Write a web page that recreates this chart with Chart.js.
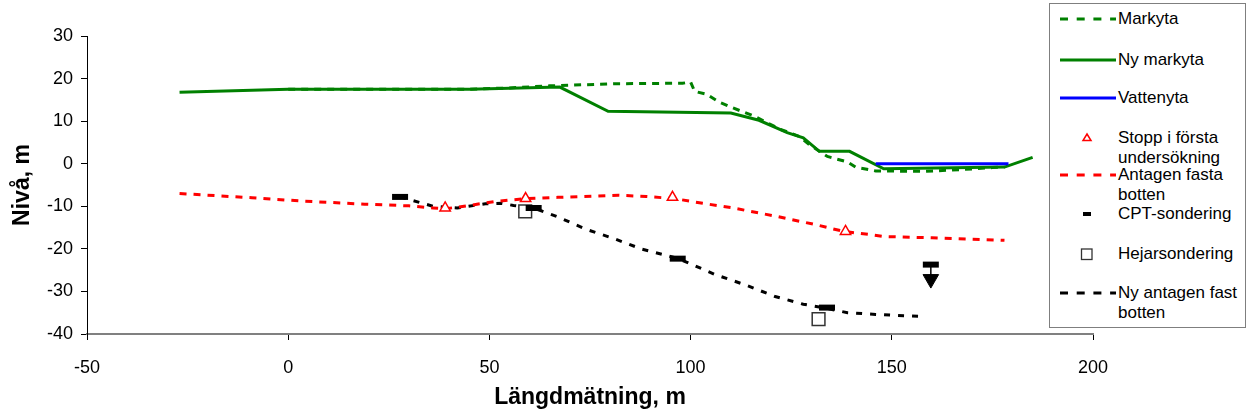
<!DOCTYPE html>
<html>
<head>
<meta charset="utf-8">
<script src="https://cdn.jsdelivr.net/npm/chart.js@4.4.0/dist/chart.umd.min.js"></script>
<style>
  html, body { margin: 0; padding: 0; background: #fff; }
  #wrap { position: relative; width: 1248px; height: 416px; font-family: "Liberation Sans", Arial, sans-serif; }
  #legend { position: absolute; left: 1049px; top: 3px; width: 195px; height: 323px; border: 1px solid #7f7f7f; background: #fff; }
  .sym { position: absolute; left: 0; width: 75px; height: 20px; }
  .txt { position: absolute; left: 68px; width: 126px; font-size: 17px; line-height: 19.6px; color: #000; }
</style>
</head>
<body>
<div id="wrap">
  <canvas id="chart" width="1248" height="416"></canvas>
  <div id="legend"></div>
</div>
<script>
// Markyta (befintlig)
const markytaX = [0, 45, 55, 65, 82, 98, 100, 101, 104, 107, 110, 113, 116, 122, 127, 129.5, 134, 139, 141, 146, 158, 167, 175, 178];
const markytaY = [17.5, 17.5, 17.8, 18.3, 18.8, 18.9, 19.2, 17.0, 16.3, 14.5, 13.3, 12.2, 11.1, 8.2, 6.4, 4.5, 1.7, 0.4, -0.8, -1.7, -1.8, -1.4, -0.9, -0.8];

// Ny markyta
const nyMarkytaX = [-27, 0, 45, 67.5, 79.5, 110, 117, 124, 128, 132, 139.5, 148, 178, 185];
const nyMarkytaY = [16.8, 17.5, 17.5, 18.0, 12.3, 11.9, 10.2, 7.3, 6.1, 2.9, 2.9, -1.2, -0.8, 1.5];

// Vattenyta
const vattenX = [146, 179];
const vattenY = [0, 0];

// Stopp i första undersökning
const stoppX = [39, 59, 95.5, 138.5];
const stoppY = [-10.4, -8.2, -7.9, -15.9];

// Antagen fasta botten
const fastaX = [-27, -9, 4, 19, 30, 36, 39, 45, 52, 59, 67, 82, 89, 96, 103, 110, 121, 131, 138, 145, 148, 160, 178];
const fastaY = [-7, -8, -8.8, -9.5, -9.9, -10.4, -10.6, -9.8, -8.8, -8.2, -7.9, -7.4, -7.7, -8.2, -9.3, -10.3, -12.3, -14.3, -15.9, -16.7, -17.1, -17.4, -18];

// CPT-sondering
const cptX = [27.8, 61, 96.8, 133.9, 159.7];
const cptY = [-7.8, -10.4, -22.3, -33.8, -23.7];
// pil under sista CPT-sonderingen
const pilX = [159.7, 159.7];
const pilY = [-23.7, -26.2];
const pilspetsX = [159.7];
const pilspetsY = [-27.1];

// Hejarsondering
const hejarX = [58.9, 131.8];
const hejarY = [-11.2, -36.5];

// Ny antagen fast botten
const nyFastX = [27.8, 36, 42, 49, 53, 56, 61, 67, 74, 81, 88, 97, 106, 114, 121, 128, 134, 139, 146, 153, 158];
const nyFastY = [-7.8, -10, -10.4, -9.4, -9.3, -9.8, -10.4, -12.5, -15.4, -17.6, -20.1, -22.3, -26, -28.6, -31.2, -33, -34, -35, -35.4, -35.7, -35.9];

const FONT = "'Liberation Sans', Arial, sans-serif";

function punkter(xs, ys) {
    return xs.map((x, i) => ({ x: x, y: ys[i] }));
}

function linje(label, xs, ys, color, dash) {
    return {
        label: label,
        data: punkter(xs, ys),
        showLine: true,
        borderColor: color,
        backgroundColor: color,
        borderWidth: 3,
        borderDash: dash,
        pointRadius: 0,
        tension: 0
    };
}

const datasets = [
    {
        label: 'CPT-sondering',
        data: punkter(cptX, cptY),
        pointStyle: 'line',
        pointRadius: 8,
        pointBorderWidth: 6,
        borderColor: '#000',
        backgroundColor: '#000'
    },
    {
        label: '',
        data: punkter(pilX, pilY),
        showLine: true,
        borderColor: '#000',
        borderWidth: 1.5,
        pointRadius: 0
    },
    {
        label: '',
        data: punkter(pilspetsX, pilspetsY),
        pointStyle: 'triangle',
        rotation: 180,
        pointRadius: 9,
        borderColor: '#000',
        backgroundColor: '#000',
        pointBorderWidth: 1
    },
    {
        label: 'Hejarsondering',
        data: punkter(hejarX, hejarY),
        pointStyle: 'rect',
        pointRadius: 9,
        pointBorderWidth: 1.5,
        borderColor: '#333',
        backgroundColor: '#fff'
    },
    {
        label: 'Stopp i första undersökning',
        data: punkter(stoppX, stoppY),
        pointStyle: 'triangle',
        pointRadius: 6,
        pointBorderWidth: 1.5,
        borderColor: '#ff0000',
        backgroundColor: '#fff'
    },
    linje('Vattenyta', vattenX, vattenY, '#0000ff', []),
    linje('Markyta', markytaX, markytaY, '#008000', [7, 6]),
    linje('Ny markyta', nyMarkytaX, nyMarkytaY, '#008000', []),
    linje('Antagen fasta botten', fastaX, fastaY, '#ff0000', [7, 7]),
    linje('Ny antagen fast botten', nyFastX, nyFastY, '#000', [6, 8])
];

new Chart(document.getElementById('chart'), {
    type: 'scatter',
    data: { datasets: datasets },
    options: {
        responsive: false,
        animation: false,
        events: [],
        layout: { padding: { left: 0, right: 155, top: 36, bottom: 0 } },
        plugins: {
            legend: { display: false },
            tooltip: { enabled: false }
        },
        scales: {
            x: {
                type: 'linear',
                min: -50,
                max: 200,
                afterFit: (s) => { s.height = 82; },
                ticks: { stepSize: 50, color: '#000', padding: 17, font: { family: FONT, size: 18 } },
                grid: { drawOnChartArea: false, drawTicks: true, tickLength: 6, color: '#000' },
                border: { display: true, color: '#808080', width: 2 },
                title: {
                    display: true,
                    text: 'Längdmätning, m',
                    color: '#000',
                    padding: { top: 0, bottom: 5 },
                    font: { family: FONT, size: 23, weight: 'bold' }
                }
            },
            y: {
                type: 'linear',
                min: -40,
                max: 30,
                afterFit: (s) => { s.width = 87; },
                ticks: { stepSize: 10, color: '#000', padding: 8, font: { family: FONT, size: 18 } },
                grid: { drawOnChartArea: false, drawTicks: true, tickLength: 6, color: '#000' },
                border: { display: true, color: '#000', width: 1 },
                title: {
                    display: true,
                    text: 'Nivå, m',
                    color: '#000',
                    padding: { top: 9, bottom: 0 },
                    font: { family: FONT, size: 23, weight: 'bold' }
                }
            }
        }
    }
});

// Legend som i originalet (ruta till höger, tvåradiga texter)
const legendRows = [
    { label: 'Markyta', typ: 'linje', color: '#008000', dash: '8 8.7', y: 15 },
    { label: 'Ny markyta', typ: 'linje', color: '#008000', dash: '', y: 56 },
    { label: 'Vattenyta', typ: 'linje', color: '#0000ff', dash: '', y: 93.5 },
    { label: 'Stopp i första undersökning', typ: 'triangel', color: '#ff0000', y: 134 },
    { label: 'Antagen fasta botten', typ: 'linje', color: '#ff0000', dash: '8 8.7', y: 171 },
    { label: 'CPT-sondering', typ: 'cpt', color: '#000', y: 210 },
    { label: 'Hejarsondering', typ: 'ruta', color: '#333', y: 249.5 },
    { label: 'Ny antagen fast botten', typ: 'linje', color: '#000', dash: '8 8.7', y: 289 }
];

const legendEl = document.getElementById('legend');
legendRows.forEach((r) => {
    let svg = '';
    if (r.typ === 'linje') {
        svg = '<line x1="10" x2="66" y1="10" y2="10" stroke="' + r.color + '" stroke-width="3"' +
            (r.dash ? ' stroke-dasharray="' + r.dash + '"' : '') + '/>';
    } else if (r.typ === 'triangel') {
        svg = '<polygon points="37,6 41,12.5 33,12.5" fill="#fff" stroke="' + r.color + '" stroke-width="1.5"/>';
    } else if (r.typ === 'cpt') {
        svg = '<rect x="33" y="8" width="8" height="4" fill="' + r.color + '"/>';
    } else if (r.typ === 'ruta') {
        svg = '<rect x="31.5" y="5" width="10.5" height="10.5" fill="#fff" stroke="' + r.color + '" stroke-width="1.3"/>';
    }
    const sym = document.createElement('div');
    sym.className = 'sym';
    sym.style.top = (r.y - 10) + 'px';
    sym.innerHTML = '<svg width="75" height="20">' + svg + '</svg>';
    legendEl.appendChild(sym);

    const txt = document.createElement('div');
    txt.className = 'txt';
    txt.style.top = (r.y - 9.8) + 'px';
    txt.textContent = r.label;
    legendEl.appendChild(txt);
});
</script>
</body>
</html>
